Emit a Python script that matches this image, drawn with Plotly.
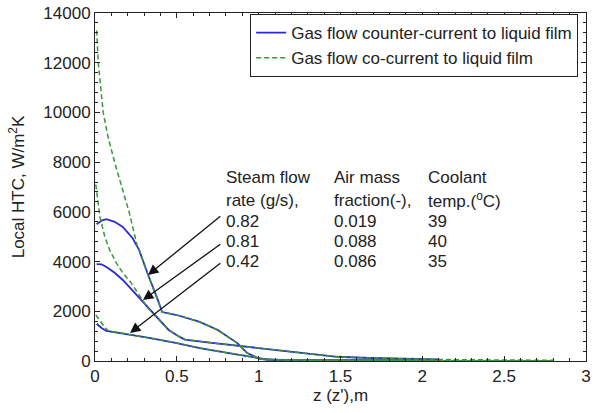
import plotly.graph_objects as go

# counter-current (solid blue) curves
z_cnt_082 = [0.01, 0.04, 0.07, 0.12, 0.17, 0.23, 0.27, 0.32, 0.38, 0.41, 0.5, 0.64, 0.75, 0.87, 0.93, 1.01, 1.1, 1.3, 1.6, 1.9, 2.1]
htc_cnt_082 = [5500, 5650, 5710, 5600, 5390, 4940, 4460, 3540, 2530, 1970, 1850, 1570, 1250, 720, 320, 80, 40, 30, 25, 20, 15]

z_cnt_081 = [0.01, 0.04, 0.07, 0.12, 0.17, 0.22, 0.27, 0.32, 0.38, 0.45, 0.52, 0.55, 0.7, 0.84, 1.0, 1.13, 1.3, 1.48, 1.68, 1.9, 2.1]
htc_cnt_081 = [3900, 3890, 3780, 3550, 3260, 2900, 2530, 2150, 1730, 1250, 960, 860, 740, 640, 540, 440, 300, 170, 120, 80, 60]

z_cnt_042 = [0.01, 0.04, 0.07, 0.2, 0.34, 0.5, 0.64, 0.8, 0.95, 1.05, 1.2, 1.5, 1.8, 2.1]
htc_cnt_042 = [1500, 1330, 1210, 1080, 920, 720, 520, 340, 160, 60, 30, 20, 15, 10]

# co-current (dashed green) curves
z_co_082 = [0.01, 0.02, 0.05, 0.08, 0.12, 0.17, 0.21, 0.26, 0.27, 0.32, 0.38, 0.41, 0.5, 0.64, 0.75, 0.87, 0.93, 1.01, 1.1, 1.3, 1.6, 1.9, 2.1, 2.5, 2.8]
htc_co_082 = [13300, 12000, 10000, 9000, 8000, 6900, 5950, 4580, 4460, 3540, 2530, 1970, 1850, 1570, 1250, 720, 320, 80, 40, 30, 25, 20, 15, 12, 10]

z_co_081 = [0.005, 0.03, 0.06, 0.09, 0.13, 0.17, 0.22, 0.26, 0.3, 0.32, 0.38, 0.45, 0.52, 0.55, 0.7, 0.84, 1.0, 1.13, 1.3, 1.48, 1.68, 1.9, 2.1, 2.5, 2.8]
htc_co_081 = [7100, 5800, 5000, 4460, 3950, 3540, 3150, 2750, 2300, 2150, 1730, 1250, 960, 860, 740, 640, 540, 440, 300, 170, 120, 80, 60, 40, 30]

z_co_042 = [0.005, 0.03, 0.06, 0.08, 0.2, 0.34, 0.5, 0.64, 0.8, 0.95, 1.05, 1.2, 1.5, 1.8, 2.1, 2.5, 2.8]
htc_co_042 = [1850, 1600, 1350, 1220, 1080, 920, 720, 520, 340, 160, 60, 30, 20, 15, 10, 8, 6]

# table in the middle of the plot
steam_flow = ['0.82', '0.81', '0.42']
air_fraction = ['0.019', '0.088', '0.086']
coolant_temp = ['39', '40', '35']

# arrow heads (where they touch the curves)
arrow_z = [0.324, 0.293, 0.214]
arrow_htc = [3460, 2450, 1130]

BLUE = '#2a2ad0'
GREEN = '#3a963a'
FONT = 'Liberation Sans, Arial, sans-serif'

fig = go.Figure()

for i, (zz, hh) in enumerate([(z_cnt_082, htc_cnt_082), (z_cnt_081, htc_cnt_081), (z_cnt_042, htc_cnt_042)]):
    fig.add_trace(go.Scatter(x=zz, y=hh, mode='lines', line=dict(color=BLUE, width=1.8),
                             name='Gas flow counter-current to liquid film',
                             legendgroup='cnt', showlegend=(i == 0)))

for i, (zz, hh) in enumerate([(z_co_082, htc_co_082), (z_co_081, htc_co_081), (z_co_042, htc_co_042)]):
    fig.add_trace(go.Scatter(x=zz, y=hh, mode='lines', line=dict(color=GREEN, width=1.5, dash='5px,3px'),
                             name='Gas flow co-current to liquid film',
                             legendgroup='co', showlegend=(i == 0)))

# text table
col_x = [0.79, 1.45, 2.02]
headers = [('Steam flow', 'rate (g/s),'), ('Air mass', 'fraction(-),'), ('Coolant', 'temp.(<sup>o</sup>C)')]
columns = [steam_flow, air_fraction, coolant_temp]
row_y = [7400, 6470, 5630, 4820, 4020]
for cx, (h1, h2), col in zip(col_x, headers, columns):
    for txt, ry in zip([h1, h2] + col, row_y):
        fig.add_annotation(x=cx, y=ry, xref='x', yref='y', text=txt, showarrow=False,
                           xanchor='left', yanchor='middle', font=dict(size=17, color='#222'))

# arrows from the steam flow values to the curves
tail_y = [5870, 4740, 3980]
for ax_, ay_, ty in zip(arrow_z, arrow_htc, tail_y):
    fig.add_annotation(x=ax_, y=ay_, ax=0.775, ay=ty, xref='x', yref='y', axref='x', ayref='y',
                       text='', showarrow=True, arrowhead=2, arrowsize=1.6, arrowwidth=1.3,
                       arrowcolor='#111')

fig.update_layout(
    width=596, height=413,
    margin=dict(l=95, r=10, t=13, b=52, autoexpand=False),
    paper_bgcolor='white', plot_bgcolor='white',
    font=dict(family=FONT, size=17, color='#222'),
    legend=dict(x=0.316, y=0.997, xanchor='left', yanchor='top',
                bordercolor='#222', borderwidth=1, bgcolor='white',
                font=dict(size=17), tracegroupgap=0, itemwidth=30),
)

fig.update_xaxes(range=[0, 3], dtick=0.5, showline=True, linecolor='#222', linewidth=1,
                 mirror='ticks', ticks='inside', ticklen=5, tickcolor='#222', showgrid=False,
                 zeroline=False, tickfont=dict(size=17), automargin=False, ticklabeloverflow='allow',
                 minor=dict(dtick=0.1, ticks='inside', ticklen=3, tickcolor='#222'),
                 title=dict(text="z (z'),m", font=dict(size=17), standoff=2))
fig.update_yaxes(range=[0, 14000], dtick=2000, tickformat='d', showline=True, linecolor='#222',
                 linewidth=1, mirror='ticks', ticks='inside', ticklen=5, tickcolor='#222',
                 showgrid=False, zeroline=False, tickfont=dict(size=17), automargin=False,
                 ticklabeloverflow='allow',
                 minor=dict(dtick=400, ticks='inside', ticklen=3, tickcolor='#222'),
                 title=dict(text='Local HTC, W/m<sup>2</sup>K', font=dict(size=17), standoff=14))

# drop the default 8px body margin so the figure fills the window exactly
fig.write_html("out.html", config={'displayModeBar': False},
               post_script="document.body.style.margin='0';")
